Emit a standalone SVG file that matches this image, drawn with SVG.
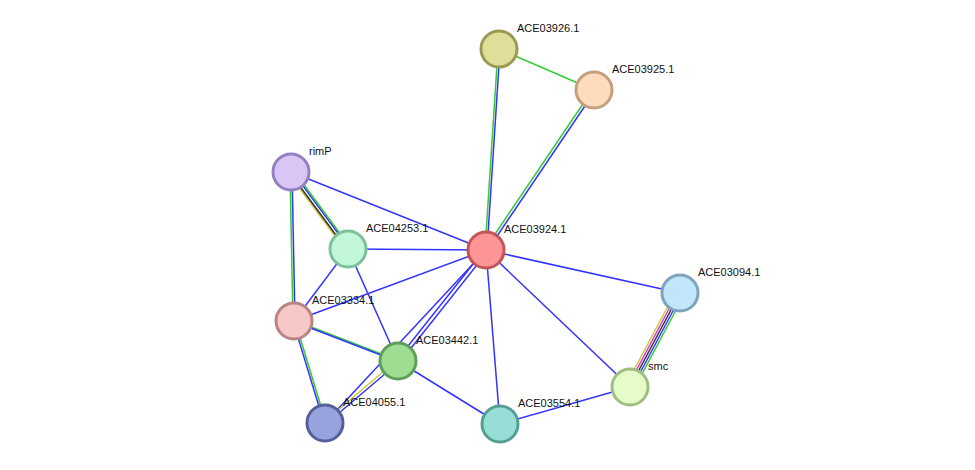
<svg xmlns="http://www.w3.org/2000/svg" width="975" height="470" viewBox="0 0 975 470">
<style>
line{stroke-width:1.5}
.b{stroke:#3333ff}.g{stroke:#33cc33}.y{stroke:#cccc33}.k{stroke:#333333}.m{stroke:#dd33dd}
circle{stroke-width:3}
text{font-family:"Liberation Sans",Arial,sans-serif;font-size:11px;fill:#111}
</style>
<rect width="975" height="470" fill="#fff"/>
<g id="edges">
<line class="g" x1="499" y1="49" x2="594" y2="90"/>
<line class="g" x1="498" y1="49" x2="485" y2="250"/>
<line class="b" x1="500" y1="49" x2="487" y2="250"/>
<line class="g" x1="593" y1="89" x2="485" y2="249"/>
<line class="b" x1="595" y1="91" x2="487" y2="251"/>
<line class="b" x1="291" y1="172" x2="486" y2="250"/>
<line class="y" x1="289" y1="174" x2="346" y2="251"/>
<line class="k" x1="290" y1="173" x2="347" y2="250"/>
<line class="b" x1="292" y1="171" x2="349" y2="248"/>
<line class="g" x1="293" y1="170" x2="350" y2="247"/>
<line class="g" x1="290" y1="172" x2="293" y2="321"/>
<line class="b" x1="292" y1="172" x2="295" y2="321"/>
<line class="b" x1="348" y1="249" x2="486" y2="250"/>
<line class="b" x1="348" y1="249" x2="294" y2="321"/>
<line class="b" x1="348" y1="249" x2="398" y2="361"/>
<line class="b" x1="486" y1="250" x2="294" y2="321"/>
<line class="b" x1="485" y1="249" x2="397" y2="360"/>
<line class="b" x1="488" y1="251" x2="400" y2="362"/>
<line class="b" x1="486" y1="250" x2="325" y2="423"/>
<line class="b" x1="486" y1="250" x2="500" y2="424"/>
<line class="b" x1="486" y1="250" x2="630" y2="387"/>
<line class="b" x1="486" y1="250" x2="680" y2="293"/>
<line class="y" x1="626" y1="385" x2="676" y2="291"/>
<line class="m" x1="628" y1="386" x2="678" y2="292"/>
<line class="k" x1="630" y1="387" x2="680" y2="293"/>
<line class="b" x1="632" y1="388" x2="682" y2="294"/>
<line class="g" x1="634" y1="389" x2="684" y2="295"/>
<line class="g" x1="293" y1="320" x2="397" y2="360"/>
<line class="b" x1="295" y1="322" x2="399" y2="362"/>
<line class="b" x1="293" y1="321" x2="324" y2="423"/>
<line class="g" x1="295" y1="321" x2="326" y2="423"/>
<line class="y" x1="397" y1="360" x2="324" y2="422"/>
<line class="b" x1="399" y1="362" x2="326" y2="424"/>
<line class="b" x1="398" y1="361" x2="500" y2="424"/>
<line class="b" x1="500" y1="424" x2="630" y2="387"/>
</g>
<g id="ACE03926.1"><circle cx="499" cy="49" r="18" fill="#e0de99" stroke="#9a9a55"/><text x="517" y="32">ACE03926.1</text></g>
<g id="ACE03925.1"><circle cx="594" cy="90" r="18" fill="#fddbbc" stroke="#c4a07e"/><text x="612" y="73">ACE03925.1</text></g>
<g id="rimP"><circle cx="291" cy="172" r="18" fill="#d9c6f5" stroke="#9480c4"/><text x="309" y="155">rimP</text></g>
<g id="ACE04253.1"><circle cx="348" cy="249" r="18" fill="#c2f7da" stroke="#7ec09a"/><text x="366" y="232">ACE04253.1</text></g>
<g id="ACE03924.1"><circle cx="486" cy="250" r="18" fill="#fd9596" stroke="#c25556"/><text x="504" y="233">ACE03924.1</text></g>
<g id="ACE03094.1"><circle cx="680" cy="293" r="18" fill="#c1e6fc" stroke="#7fa3bd"/><text x="698" y="276">ACE03094.1</text></g>
<g id="ACE03334.1"><circle cx="294" cy="321" r="18" fill="#f7c8c8" stroke="#b88484"/><text x="312" y="304">ACE03334.1</text></g>
<g id="ACE03442.1"><circle cx="398" cy="361" r="18" fill="#9ede93" stroke="#5e9e58"/><text x="416" y="344">ACE03442.1</text></g>
<g id="smc"><circle cx="630" cy="387" r="18" fill="#e6fcc8" stroke="#a2bd84"/><text x="648" y="370">smc</text></g>
<g id="ACE04055.1"><circle cx="325" cy="423" r="18" fill="#98a2de" stroke="#55609a"/><text x="343" y="406">ACE04055.1</text></g>
<g id="ACE03554.1"><circle cx="500" cy="424" r="18" fill="#97dfd6" stroke="#559e94"/><text x="518" y="407">ACE03554.1</text></g>
</svg>
